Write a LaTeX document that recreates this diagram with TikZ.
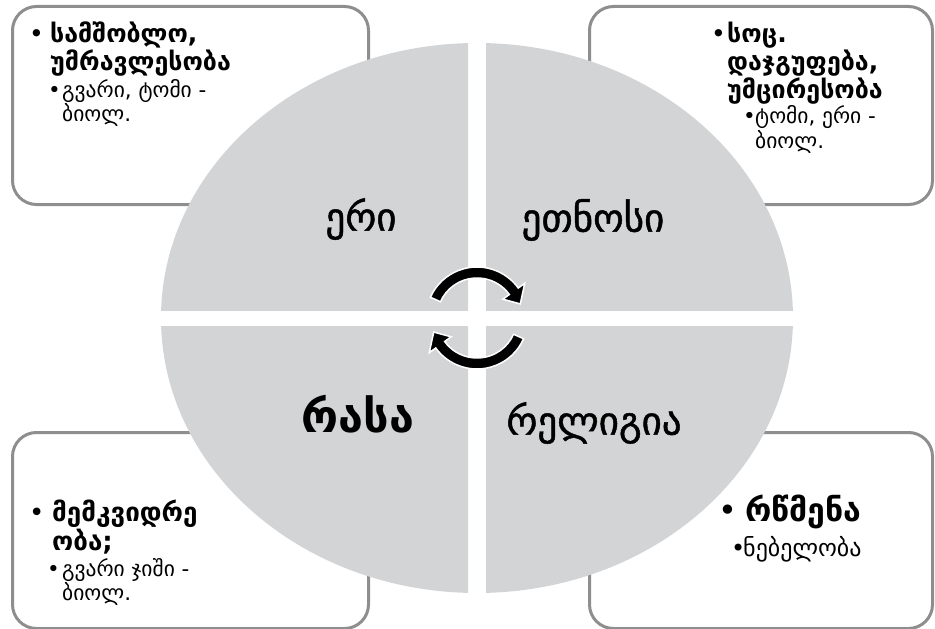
\documentclass[tikz,border=0pt]{standalone}
\usepackage{fontspec}
\setmainfont{DejaVu Sans}
\newfontfamily\heavyfont[FakeBold=1.2]{DejaVu Sans}
\usetikzlibrary{positioning}
\definecolor{quadgray}{RGB}{211,212,214}
\definecolor{boxline}{RGB}{142,142,142}
% bullet line: optional width taken by the bullet
\newcommand{\bul}[2][16bp]{\makebox[#1][l]{\mdseries\textbullet}\begin{tabular}[t]{@{}l@{}}#2\end{tabular}}

\begin{document}
\begin{tikzpicture}[x=1bp, y=1bp,
  box/.style={draw=boxline, line width=3bp, rounded corners=24bp, fill=white, anchor=north west, inner sep=0pt},
  txt/.style={inner sep=0pt, align=left},
  lbl/.style={inner sep=0pt, font=\fontsize{39bp}{44bp}\heavyfont},
  cyc/.style={fill=black, draw=white, line width=1.5bp}]
  \useasboundingbox (0,0) rectangle (935,-629);

  % the four text boxes behind the disc
  \node[box, minimum width=356bp, minimum height=198bp] (tlbox) at (11,-5) {};
  \node[box, minimum width=343bp, minimum height=198bp] (trbox) at (588,-5) {};
  \node[box, minimum width=356bp, minimum height=196bp] (blbox) at (11,-431) {};
  \node[box, minimum width=343bp, minimum height=196bp] (brbox) at (588,-431) {};

  \node[txt, font=\fontsize{25bp}{24bp}\selectfont\bfseries, below right=17bp and 18bp of tlbox.north west] (tlmain) {\bul[21bp]{სამშობლო,\\უმრავლესობა}};
  \node[txt, font=\fontsize{21.5bp}{20bp}\selectfont, below=1bp of tlmain.south west, anchor=north west, xshift=19bp] (tlsub) {\bul[14bp]{გვარი, ტომი -\\ბიოლ.}};

  \node[txt, font=\fontsize{25bp}{25bp}\selectfont\bfseries, below right=17bp and 123bp of trbox.north west] (trmain) {\bul[16bp]{სოც.\\დაჯგუფება,\\უმცირესობა}};
  \node[txt, font=\fontsize{21.5bp}{21bp}\selectfont, below=-1bp of trmain.south west, anchor=north west, xshift=32bp] (trsub) {\bul[12bp]{ტომი, ერი -\\ბიოლ.}};

  \node[txt, font=\fontsize{26bp}{24bp}\selectfont\bfseries, below right=69bp and 18bp of blbox.north west] (blmain) {\bul[23bp]{მემკვიდრე\\ობა;}};
  \node[txt, font=\fontsize{21.5bp}{20bp}\selectfont, below=1bp of blmain.south west, anchor=north west, xshift=18bp] (blsub) {\bul[15bp]{გვარი ჯიში -\\ბიოლ.}};

  \node[txt, font=\fontsize{32bp}{36bp}\selectfont\bfseries, below right=64bp and 130bp of brbox.north west] (brmain) {\bul[27bp]{რწმენა}};
  \node[txt, font=\fontsize{24bp}{26bp}\selectfont, below=3bp of brmain.south west, anchor=north west, xshift=13bp] (brsub) {\bul[12bp]{ნებელობა}};

  % disc cut in four
  \foreach \xa/\xb/\ya/\yb in {0/468/0/-310, 486/935/0/-310, 0/468/-326/-629, 486/935/-326/-629} {
    \begin{scope}
      \clip (\xa,\ya) rectangle (\xb,\yb);
      \fill[quadgray] (477,-318) ellipse[x radius=316, y radius=275];
    \end{scope}
  }

  \node[lbl] (eri) at (361,-219) {ერი};
  \node[lbl] (etnosi) at (593,-220) {ეთნოსი};
  \node[lbl, font=\fontsize{45bp}{50bp}\selectfont\bfseries] (rasa) at (358,-414) {რასა};
  \node[lbl] (religia) at (594,-423) {რელიგია};

  % two turning arrows in the middle
  \foreach \rot in {0,180}
    \draw[cyc, shift={(477,-318)}, rotate=\rot] (156:51) arc[start angle=156, end angle=36, radius=51]
      -- (36:59) -- (18:45.5) -- (36:32) -- (36:40) arc[start angle=36, end angle=156, radius=40] -- cycle;
\end{tikzpicture}
\end{document}
